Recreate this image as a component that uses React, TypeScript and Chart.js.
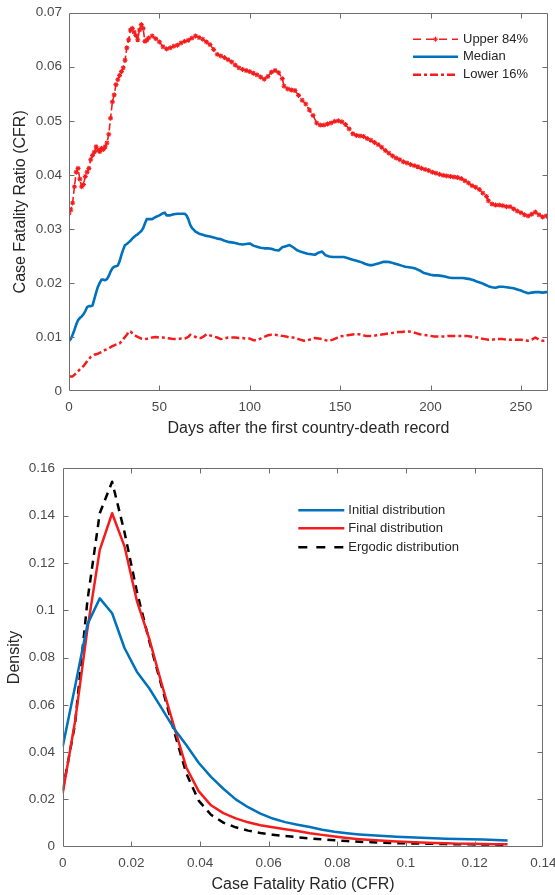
import React, { useEffect, useRef } from 'react';
import { Chart, registerables } from 'chart.js';

Chart.register(...registerables);

// ---------------- Top panel data (days after first country-death record) ----------------
const upperDays = [
  0, 1, 2, 3, 4, 5, 6, 7, 8, 9,
  10, 11, 12, 13, 14, 15, 16, 17, 18, 19,
  20, 21, 22, 23, 24, 25, 26, 27, 28, 29,
  30, 31, 32, 33, 34, 35, 36, 37, 38, 39,
  40, 41, 42, 43, 44, 46, 48, 50, 52, 54,
  56, 58, 60, 62, 64, 66, 68, 70, 72, 74,
  76, 78, 80, 82, 84, 86, 88, 90, 92, 94,
  96, 98, 100, 102, 104, 106, 108, 110, 112, 114,
  116, 118, 119, 121, 123, 125, 127, 129, 131, 133,
  135, 137, 139, 141, 143, 145, 147, 149, 151, 153,
  155, 157, 159, 161, 163, 165, 167, 169, 171, 173,
  175, 177, 179, 181, 183, 185, 187, 189, 191, 193,
  195, 197, 199, 201, 203, 205, 207, 209, 211, 213,
  215, 217, 219, 221, 223, 225, 227, 229, 231, 232,
  234, 236, 238, 240, 242, 244, 246, 248, 250, 252,
  254, 256, 258, 260, 262, 264, 265,
];
const upperCFR = [
  0.0329, 0.0335, 0.0348, 0.0378, 0.0405, 0.0412, 0.0392, 0.0378, 0.0382, 0.0397,
  0.0405, 0.0412, 0.0428, 0.0436, 0.0442, 0.0452, 0.0446, 0.0443, 0.0449, 0.0447,
  0.0452, 0.0459, 0.0475, 0.0505, 0.0535, 0.0548, 0.0567, 0.0576, 0.0584, 0.0591,
  0.0598, 0.0612, 0.0635, 0.065, 0.0668, 0.0671, 0.0664, 0.0658, 0.065, 0.0668,
  0.0678, 0.0671, 0.0647, 0.0649, 0.0653, 0.0657, 0.0652, 0.0646, 0.0637, 0.0633,
  0.0635, 0.0638, 0.064, 0.0644, 0.0647, 0.0649, 0.0653, 0.0657, 0.0654, 0.0651,
  0.0646, 0.0641, 0.0632, 0.0623, 0.062, 0.0617, 0.0613, 0.0609, 0.0603, 0.0598,
  0.0595, 0.0593, 0.0591, 0.0588, 0.0585, 0.0581, 0.0577, 0.0582, 0.059, 0.0593,
  0.0589, 0.0578, 0.0564, 0.0559, 0.0557, 0.0556, 0.0547, 0.0538, 0.0531, 0.052,
  0.051, 0.0496, 0.0492, 0.0492, 0.0494, 0.0496, 0.0499, 0.05, 0.0498, 0.0493,
  0.0485, 0.0476, 0.0473, 0.0472, 0.0471, 0.0467, 0.0464, 0.046, 0.0456, 0.0451,
  0.0445, 0.044, 0.0435, 0.0431, 0.0428, 0.0424, 0.0422, 0.0419, 0.0417, 0.0415,
  0.0412, 0.041, 0.0408, 0.0405, 0.0403, 0.0401, 0.0399, 0.0398, 0.0397, 0.0396,
  0.0395, 0.0393, 0.0389, 0.0385, 0.038, 0.0377, 0.0373, 0.0366, 0.036, 0.0352,
  0.0346, 0.0344, 0.0344, 0.0343, 0.0341, 0.0341, 0.0337, 0.0333, 0.033, 0.0326,
  0.0324, 0.0327, 0.0331, 0.0326, 0.0322, 0.0324, 0.0323,
];

const medianDays = [
  0, 1, 2, 3, 4, 5, 6, 7, 8, 9,
  10, 11, 12, 13, 14, 15, 16, 17, 18, 19,
  20, 21, 22, 23, 24, 25, 26, 27, 28, 29,
  30, 31, 32, 33, 34, 35, 36, 37, 38, 39,
  40, 41, 42, 43, 44, 46, 48, 50, 52, 53,
  54, 56, 58, 60, 62, 64, 65, 66, 67, 68,
  70, 72, 74, 76, 78, 80, 82, 84, 86, 88,
  90, 92, 94, 96, 98, 100, 102, 104, 106, 108,
  110, 112, 114, 116, 118, 120, 122, 124, 126, 128,
  130, 132, 134, 136, 138, 140, 142, 144, 146, 148,
  150, 152, 154, 156, 158, 160, 162, 164, 166, 168,
  170, 172, 174, 176, 178, 180, 182, 184, 186, 188,
  190, 192, 194, 196, 198, 200, 202, 204, 206, 208,
  210, 212, 214, 216, 218, 220, 222, 224, 226, 228,
  230, 232, 234, 236, 238, 240, 242, 244, 246, 248,
  250, 252, 254, 256, 258, 260, 262, 264, 265,
];
const medianCFR = [
  0.0093, 0.0096, 0.0104, 0.0113, 0.0123, 0.0131, 0.0135, 0.0138, 0.0142, 0.0148,
  0.0155, 0.0157, 0.0157, 0.0158, 0.017, 0.0182, 0.0193, 0.02, 0.0206, 0.0206,
  0.0205, 0.0207, 0.0213, 0.0221, 0.0227, 0.023, 0.0231, 0.0232, 0.024, 0.0252,
  0.0262, 0.027, 0.0272, 0.0275, 0.0278, 0.0282, 0.0285, 0.0288, 0.029, 0.0293,
  0.0296, 0.0301, 0.031, 0.0318, 0.0318, 0.0318, 0.0322, 0.0325, 0.0329, 0.033,
  0.0325, 0.0325, 0.0327, 0.0328, 0.0328, 0.0328, 0.0325, 0.0318, 0.0308, 0.0302,
  0.0295, 0.0291, 0.0289, 0.0287, 0.0286, 0.0284, 0.0282, 0.0281, 0.0278, 0.0276,
  0.0275, 0.0274, 0.0272, 0.0271, 0.0272, 0.0273, 0.0269, 0.0267, 0.0265, 0.0264,
  0.0264, 0.0263, 0.0261, 0.026, 0.0266, 0.0268, 0.027, 0.0266, 0.0261, 0.0258,
  0.0256, 0.0254, 0.0253, 0.0252, 0.0256, 0.0258, 0.0251, 0.0249, 0.0248, 0.0248,
  0.0248, 0.0248, 0.0246, 0.0244, 0.0242, 0.024, 0.0238, 0.0235, 0.0233, 0.0233,
  0.0235, 0.0237, 0.0239, 0.0239, 0.0238, 0.0236, 0.0234, 0.0232, 0.023, 0.0229,
  0.0228, 0.0226, 0.0223, 0.0219, 0.0217, 0.0215, 0.0214, 0.0214, 0.0213, 0.0212,
  0.021, 0.0209, 0.0209, 0.0209, 0.0209, 0.0208, 0.0207, 0.0205, 0.0202, 0.02,
  0.0197, 0.0194, 0.0192, 0.0191, 0.0193, 0.0193, 0.0192, 0.0191, 0.019, 0.0188,
  0.0186, 0.0183, 0.0181, 0.0182, 0.0183, 0.0183, 0.0182, 0.0183, 0.0183,
];

const lowerDays = [
  0, 2, 4, 6, 8, 10, 12, 14, 16, 18,
  20, 22, 24, 26, 28, 30, 32, 33, 34, 36,
  38, 40, 42, 44, 46, 48, 50, 52, 54, 56,
  58, 60, 62, 64, 66, 67, 69, 71, 73, 75,
  76, 78, 80, 82, 84, 86, 88, 90, 92, 94,
  96, 98, 100, 102, 104, 106, 108, 110, 112, 114,
  116, 118, 120, 122, 124, 126, 128, 130, 132, 134,
  136, 138, 140, 142, 144, 146, 148, 150, 152, 154,
  156, 158, 160, 162, 164, 166, 168, 170, 172, 174,
  176, 178, 180, 182, 184, 186, 188, 190, 192, 194,
  196, 198, 200, 202, 204, 206, 208, 210, 212, 214,
  216, 218, 220, 222, 224, 226, 228, 230, 232, 234,
  236, 238, 240, 242, 244, 246, 248, 250, 252, 254,
  256, 258, 260, 262, 264, 265,
];
const lowerCFR = [
  0.0027, 0.0027, 0.0033, 0.004, 0.0046, 0.0055, 0.0063, 0.0067, 0.0069, 0.0072,
  0.0076, 0.0079, 0.0083, 0.0086, 0.0088, 0.0096, 0.0104, 0.011, 0.011, 0.0104,
  0.01, 0.0097, 0.0096, 0.0097, 0.0099, 0.01, 0.0099, 0.0099, 0.0098, 0.0097,
  0.0096, 0.0096, 0.0097, 0.0097, 0.01, 0.0104, 0.0102, 0.0098, 0.0098, 0.0102,
  0.0105, 0.0103, 0.0101, 0.0099, 0.0096, 0.0097, 0.0099, 0.0099, 0.0099, 0.0098,
  0.0098, 0.0097, 0.0097, 0.0094, 0.0094, 0.0097, 0.01, 0.0103, 0.0104, 0.0104,
  0.0103, 0.0102, 0.0101, 0.0099, 0.0099, 0.0097, 0.0095, 0.0093, 0.0094, 0.0096,
  0.0098, 0.0097, 0.0096, 0.0094, 0.0093, 0.0095, 0.0098, 0.0101, 0.0102, 0.0103,
  0.0104, 0.0105, 0.0105, 0.0104, 0.0102, 0.0102, 0.0102, 0.0103, 0.0104, 0.0105,
  0.0106, 0.0107, 0.0108, 0.0109, 0.0109, 0.011, 0.011, 0.0109, 0.0107, 0.0105,
  0.0104, 0.0103, 0.0102, 0.0101, 0.0101, 0.0101, 0.0101, 0.0102, 0.0102, 0.0102,
  0.0102, 0.0102, 0.0102, 0.0101, 0.01, 0.0099, 0.0097, 0.0096, 0.0095, 0.0095,
  0.0096, 0.0096, 0.0096, 0.0095, 0.0095, 0.0095, 0.0095, 0.0095, 0.0094, 0.0093,
  0.0095, 0.0099, 0.0095, 0.0093, 0.0093, 0.0093,
];

const topXTicks = [0, 50, 100, 150, 200, 250];
const topYTicks = [0, 0.01, 0.02, 0.03, 0.04, 0.05, 0.06, 0.07];

// ---------------- Bottom panel data (densities on a CFR grid) ----------------
const cfrGrid = [
  0, 0.0036, 0.0072, 0.0108, 0.0144, 0.018, 0.0216, 0.0252, 0.0288, 0.0324,
  0.036, 0.0396, 0.0432, 0.0468, 0.0504, 0.054, 0.0576, 0.0612, 0.0648, 0.0684,
  0.072, 0.0756, 0.0792, 0.0828, 0.0864, 0.09, 0.0936, 0.0972, 0.1008, 0.1044,
  0.108, 0.1116, 0.1152, 0.1188, 0.1224, 0.126, 0.1296,
];
const initialDensity = [
  0.0423, 0.0677, 0.094, 0.105, 0.0987, 0.084, 0.074, 0.067, 0.0586, 0.05,
  0.043, 0.0355, 0.0295, 0.0245, 0.02, 0.0167, 0.014, 0.0119, 0.0104, 0.0093,
  0.0083, 0.0072, 0.0063, 0.0057, 0.0052, 0.0048, 0.0045, 0.0042, 0.004, 0.0038,
  0.0036, 0.0034, 0.0033, 0.0031, 0.003, 0.0028, 0.0026,
];
const finalDensity = [
  0.0226, 0.053, 0.092, 0.1255, 0.141, 0.127, 0.104, 0.088, 0.069, 0.051,
  0.0335, 0.0235, 0.0175, 0.0142, 0.012, 0.0103, 0.0091, 0.0082, 0.0074, 0.0066,
  0.0057, 0.005, 0.0043, 0.0037, 0.0032, 0.0028, 0.0025, 0.0022, 0.002, 0.0018,
  0.0016, 0.0015, 0.0013, 0.0012, 0.0011, 0.001, 0.001,
];
const ergodicDensity = [
  0.0237, 0.052, 0.104, 0.141, 0.1543, 0.133, 0.108, 0.087, 0.068, 0.049,
  0.031, 0.0195, 0.0135, 0.0102, 0.0082, 0.0068, 0.0058, 0.0051, 0.0045, 0.004,
  0.0035, 0.0031, 0.0027, 0.0024, 0.0021, 0.0019, 0.0017, 0.0015, 0.0014, 0.0013,
  0.0012, 0.0011, 0.001, 0.001, 0.0009, 0.0009, 0.0008,
];

const botXTicks = [0, 0.02, 0.04, 0.06, 0.08, 0.1, 0.12, 0.14];
const botYTicks = [0, 0.02, 0.04, 0.06, 0.08, 0.1, 0.12, 0.14, 0.16];

// ---------------- styling ----------------
const FONT = '"Liberation Sans", Arial, Helvetica, sans-serif';
const RED = '#f41c1c';
const BLUE = '#0072bd';
const BLACK = '#000000';
const TICK_COLOR = '#4a4a4a';
const TITLE_COLOR = '#262626';
const AXIS_COLOR = '#6e6e6e';

const pairs = (xs: number[], ys: number[]) => {
  const n = Math.min(xs.length, ys.length);
  const out: { x: number; y: number }[] = [];
  for (let i = 0; i < n; i++) out.push({ x: xs[i], y: ys[i] });
  return out;
};

const fmt = (v: number) => String(Math.round(v * 1000) / 1000);

function drawStar(ctx: CanvasRenderingContext2D, x: number, y: number, r: number) {
  ctx.beginPath();
  ctx.moveTo(x - r, y); ctx.lineTo(x + r, y);
  ctx.moveTo(x, y - r); ctx.lineTo(x, y + r);
  const d = r * 0.7071;
  ctx.moveTo(x - d, y - d); ctx.lineTo(x + d, y + d);
  ctx.moveTo(x - d, y + d); ctx.lineTo(x + d, y - d);
  ctx.stroke();
}

// MATLAB-like box with inward tick marks on all four sides
const boxPlugin: any = {
  id: 'matlabBox',
  afterDraw(chart: any, _args: any, opts: any) {
    const { ctx, chartArea: a, scales } = chart;
    const L = Math.round(a.left) + 0.5;
    const R = Math.round(a.right) - 0.5;
    const T = Math.round(a.top) + 0.5;
    const B = Math.round(a.bottom) - 0.5;
    const tl = opts.tickLength || 5;
    ctx.save();
    ctx.strokeStyle = opts.color || AXIS_COLOR;
    ctx.lineWidth = 1;
    ctx.setLineDash([]);
    ctx.beginPath();
    ctx.rect(L, T, R - L, B - T);
    ctx.stroke();
    ctx.beginPath();
    scales.x.ticks.forEach((t: any) => {
      const px = Math.round(scales.x.getPixelForValue(t.value)) + 0.5;
      if (px <= L + 1 || px >= R - 1) return;
      ctx.moveTo(px, B); ctx.lineTo(px, B - tl);
      ctx.moveTo(px, T); ctx.lineTo(px, T + tl);
    });
    scales.y.ticks.forEach((t: any) => {
      const py = Math.round(scales.y.getPixelForValue(t.value)) + 0.5;
      if (py <= T + 1 || py >= B - 1) return;
      ctx.moveTo(L, py); ctx.lineTo(L + tl, py);
      ctx.moveTo(R, py); ctx.lineTo(R - tl, py);
    });
    ctx.stroke();
    ctx.restore();
  },
};

// Legend drawn inside the axes (top-right), MATLAB style with no frame
const insetLegendPlugin: any = {
  id: 'insetLegend',
  afterDraw(chart: any, _args: any, opts: any) {
    const { ctx, chartArea: a } = chart;
    chart.data.datasets.forEach((ds: any, i: number) => {
      const y = a.top + opts.rows[i];
      const x0 = a.right + opts.sampleFrom;
      const x1 = a.right + opts.sampleTo;
      ctx.save();
      ctx.strokeStyle = ds.borderColor;
      ctx.lineWidth = ds.borderWidth;
      ctx.lineCap = 'butt';
      ctx.setLineDash(ds.legendDash || ds.borderDash || []);
      ctx.beginPath();
      ctx.moveTo(x0, y);
      ctx.lineTo(x1, y);
      ctx.stroke();
      if (ds.pointRadius > 0) {
        ctx.setLineDash([]);
        ctx.lineWidth = 1;
        drawStar(ctx, (x0 + x1) / 2, y, ds.pointRadius);
      }
      ctx.setLineDash([]);
      ctx.fillStyle = opts.color;
      ctx.font = `${opts.fontSize}px ${FONT}`;
      ctx.textAlign = 'left';
      ctx.textBaseline = 'middle';
      ctx.fillText(ds.label, a.right + opts.textAt, y);
      ctx.restore();
    });
  },
};

function axisCommon(ticks: number[], extra: any) {
  return {
    type: 'linear',
    afterBuildTicks: (s: any) => {
      s.ticks = ticks.map((value) => ({ value }));
    },
    grid: { display: false, drawTicks: false },
    border: { display: false },
    ...extra,
  };
}

const tickOpts = (padding: number) => ({
  color: TICK_COLOR,
  font: { family: FONT, size: 13.5 },
  autoSkip: false,
  maxRotation: 0,
  padding,
  callback: (v: number) => fmt(v),
});

function topConfig(): any {
  return {
    type: 'line',
    data: {
      datasets: [
        {
          label: 'Upper 84%',
          data: pairs(upperDays, upperCFR),
          borderColor: RED,
          borderWidth: 1.6,
          borderDash: [7, 3],
          legendDash: [8, 5],
          borderJoinStyle: 'round',
          pointStyle: 'star',
          pointRadius: 2.5,
          pointBorderWidth: 1.1,
          pointBorderColor: RED,
          pointBackgroundColor: RED,
          fill: false,
          tension: 0,
        },
        {
          label: 'Median',
          data: pairs(medianDays, medianCFR),
          borderColor: BLUE,
          borderWidth: 2.6,
          borderJoinStyle: 'round',
          pointRadius: 0,
          fill: false,
          tension: 0,
        },
        {
          label: 'Lower 16%',
          data: pairs(lowerDays, lowerCFR),
          borderColor: RED,
          borderWidth: 2.5,
          borderDash: [8, 3, 3, 3],
          borderJoinStyle: 'round',
          pointRadius: 0,
          fill: false,
          tension: 0,
        },
      ],
    },
    options: {
      animation: false,
      responsive: false,
      devicePixelRatio: 1,
      events: [],
      layout: { padding: { top: 12.7, right: 7, bottom: 0, left: 0 } },
      plugins: {
        legend: { display: false },
        tooltip: { enabled: false },
        matlabBox: { color: AXIS_COLOR, tickLength: 5 },
        insetLegend: {
          rows: [26.5, 44, 62],
          sampleFrom: -135,
          sampleTo: -90,
          textAt: -85,
          fontSize: 13,
          color: TITLE_COLOR,
        },
      },
      scales: {
        x: axisCommon(topXTicks, {
          position: 'bottom',
          min: 0,
          max: 265,
          afterFit: (s: any) => {
            s.height = 69;
            s.paddingLeft = 0;
            s.paddingRight = 0;
          },
          ticks: tickOpts(8),
          title: {
            display: true,
            text: 'Days after the first country-death record',
            color: TITLE_COLOR,
            font: { family: FONT, size: 16 },
            padding: { top: 0, bottom: 21.4 },
          },
        }),
        y: axisCommon(topYTicks, {
          position: 'left',
          min: 0,
          max: 0.07,
          afterFit: (s: any) => {
            s.width = 69;
            s.paddingTop = 0;
            s.paddingBottom = 0;
          },
          ticks: tickOpts(7),
          title: {
            display: true,
            text: 'Case Fatality Ratio (CFR)',
            color: TITLE_COLOR,
            font: { family: FONT, size: 16 },
            padding: { top: 11.4, bottom: 0 },
          },
        }),
      },
    },
    plugins: [boxPlugin, insetLegendPlugin],
  };
}

function bottomConfig(): any {
  return {
    type: 'line',
    data: {
      datasets: [
        {
          label: 'Initial distribution',
          data: pairs(cfrGrid, initialDensity),
          borderColor: BLUE,
          borderWidth: 2.5,
          borderJoinStyle: 'round',
          pointRadius: 0,
          fill: false,
          tension: 0,
        },
        {
          label: 'Final distribution',
          data: pairs(cfrGrid, finalDensity),
          borderColor: RED,
          borderWidth: 2.5,
          borderJoinStyle: 'round',
          pointRadius: 0,
          fill: false,
          tension: 0,
        },
        {
          label: 'Ergodic distribution',
          data: pairs(cfrGrid, ergodicDensity),
          borderColor: BLACK,
          borderWidth: 2.5,
          borderDash: [8, 6],
          legendDash: [9, 9],
          borderJoinStyle: 'round',
          pointRadius: 0,
          fill: false,
          tension: 0,
        },
      ],
    },
    options: {
      animation: false,
      responsive: false,
      devicePixelRatio: 1,
      events: [],
      layout: { padding: { top: 8.3, right: 11.7, bottom: 0, left: 0 } },
      plugins: {
        legend: { display: false },
        tooltip: { enabled: false },
        matlabBox: { color: AXIS_COLOR, tickLength: 5 },
        insetLegend: {
          rows: [42, 60, 79],
          sampleFrom: -245,
          sampleTo: -199,
          textAt: -195,
          fontSize: 13,
          color: TITLE_COLOR,
        },
      },
      scales: {
        x: axisCommon(botXTicks, {
          position: 'bottom',
          min: 0,
          max: 0.14,
          afterFit: (s: any) => {
            s.height = 48.3;
            s.paddingLeft = 0;
            s.paddingRight = 0;
          },
          ticks: tickOpts(8),
          title: {
            display: true,
            text: 'Case Fatality Ratio (CFR)',
            color: TITLE_COLOR,
            font: { family: FONT, size: 16 },
            padding: { top: 0, bottom: 0.4 },
          },
        }),
        y: axisCommon(botYTicks, {
          position: 'left',
          min: 0,
          max: 0.16,
          afterFit: (s: any) => {
            s.width = 62.7;
            s.paddingTop = 0;
            s.paddingBottom = 0;
          },
          ticks: tickOpts(7.7),
          title: {
            display: true,
            text: 'Density',
            color: TITLE_COLOR,
            font: { family: FONT, size: 16 },
            padding: { top: 4.9, bottom: 0 },
          },
        }),
      },
    },
    plugins: [boxPlugin, insetLegendPlugin],
  };
}

export default function App() {
  const topRef = useRef<HTMLCanvasElement>(null);
  const botRef = useRef<HTMLCanvasElement>(null);

  useEffect(() => {
    const c1 = new Chart(topRef.current as HTMLCanvasElement, topConfig());
    const c2 = new Chart(botRef.current as HTMLCanvasElement, bottomConfig());
    return () => {
      c1.destroy();
      c2.destroy();
    };
  }, []);

  return (
    <div
      style={{
        position: 'absolute',
        left: 0,
        top: 0,
        width: 555,
        height: 895,
        background: '#ffffff',
      }}
    >
      <canvas
        ref={topRef}
        width={555}
        height={460}
        style={{ position: 'absolute', left: 0, top: 0, width: 555, height: 460 }}
      />
      <canvas
        ref={botRef}
        width={555}
        height={435}
        style={{ position: 'absolute', left: 0, top: 460, width: 555, height: 435 }}
      />
    </div>
  );
}
